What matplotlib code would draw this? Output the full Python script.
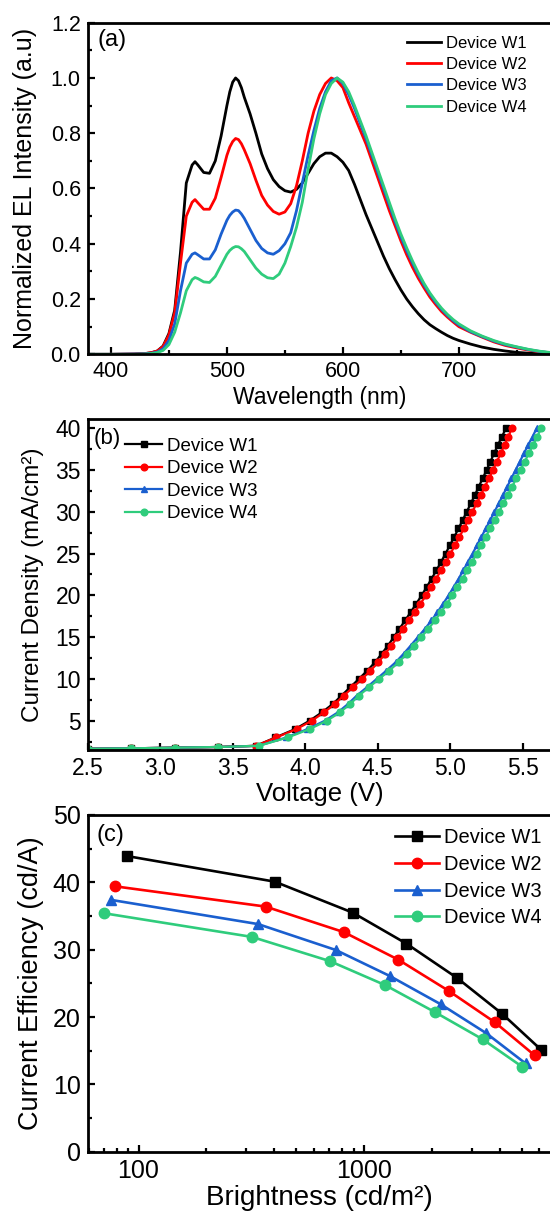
import matplotlib
matplotlib.use("Agg")
import matplotlib.pyplot as plt
from matplotlib.ticker import MultipleLocator, FormatStrFormatter, FixedLocator, NullFormatter, LogLocator

plt.rcParams["font.family"] = ["Liberation Sans", "DejaVu Sans"]

DEVICES = ["Device W1", "Device W2", "Device W3", "Device W4"]
COLORS = ["#000000", "#ff0000", "#1a5fcf", "#2fcc7c"]
MARKERS = ["s", "o", "^", "o"]

# (a) normalized EL spectra
wavelength = [380, 400, 420, 430,
              435, 440, 445, 450, 455, 460, 465, 470, 472.5, 475, 480, 485, 490, 495, 500,
              502.5, 505, 507.5, 510, 512.5, 515, 520, 525, 530, 535, 540, 545, 550, 555, 560,
              565, 570, 575, 580, 585, 590, 595, 600, 605, 610, 615, 620, 625, 630, 635, 640,
              645, 650, 655, 660, 665, 670, 675, 680, 685, 690, 695, 700,
              710, 720, 730, 740, 750, 760, 770, 780]
el_w1 = [0.0, 0.0, 0.001, 0.003,
         0.006, 0.012, 0.03, 0.075, 0.16, 0.37, 0.62, 0.685, 0.697, 0.685, 0.658, 0.655, 0.70, 0.79, 0.90,
         0.95, 0.985, 1.0, 0.99, 0.965, 0.93, 0.87, 0.80, 0.725, 0.672, 0.632, 0.607, 0.592, 0.587, 0.597,
         0.62, 0.655, 0.69, 0.715, 0.728, 0.728, 0.715, 0.695, 0.665, 0.615, 0.56, 0.505, 0.455, 0.405, 0.355, 0.31,
         0.27, 0.233, 0.20, 0.172, 0.147, 0.125, 0.107, 0.093, 0.08, 0.068, 0.058, 0.05,
         0.037, 0.026, 0.018, 0.012, 0.007, 0.004, 0.002, 0.001]
el_w2 = [0.0, 0.0, 0.001, 0.003,
         0.006, 0.012, 0.028, 0.07, 0.15, 0.33, 0.50, 0.55, 0.56, 0.548, 0.525, 0.525, 0.565, 0.64, 0.72,
         0.75, 0.77, 0.781, 0.777, 0.762, 0.74, 0.69, 0.63, 0.575, 0.54, 0.517, 0.507, 0.515, 0.545, 0.61,
         0.70, 0.80, 0.88, 0.94, 0.98, 1.0, 0.99, 0.965, 0.91, 0.86, 0.81, 0.76, 0.70, 0.64, 0.58, 0.52,
         0.465, 0.41, 0.36, 0.315, 0.275, 0.24, 0.207, 0.18, 0.155, 0.135, 0.117, 0.10,
         0.08, 0.062, 0.045, 0.032, 0.023, 0.015, 0.009, 0.005]
el_w3 = [0.0, 0.0, 0.001, 0.002,
         0.004, 0.008, 0.02, 0.05, 0.11, 0.23, 0.33, 0.362, 0.367, 0.36, 0.345, 0.345, 0.378, 0.435, 0.485,
         0.503, 0.515, 0.522, 0.52, 0.508, 0.492, 0.452, 0.412, 0.383, 0.367, 0.362, 0.375, 0.40, 0.44, 0.52,
         0.62, 0.72, 0.81, 0.89, 0.95, 0.99, 1.0, 0.98, 0.94, 0.89, 0.835, 0.78, 0.72, 0.66, 0.60, 0.54,
         0.48, 0.425, 0.375, 0.33, 0.288, 0.25, 0.217, 0.188, 0.163, 0.141, 0.122, 0.106,
         0.082, 0.064, 0.048, 0.035, 0.026, 0.017, 0.01, 0.005]
el_w4 = [0.0, 0.0, 0.0, 0.001,
         0.003, 0.006, 0.014, 0.035, 0.08, 0.15, 0.23, 0.27, 0.278, 0.274, 0.262, 0.26, 0.282, 0.322, 0.362,
         0.376, 0.385, 0.39, 0.389, 0.382, 0.372, 0.342, 0.312, 0.29, 0.277, 0.274, 0.29, 0.33, 0.39, 0.46,
         0.55, 0.67, 0.78, 0.87, 0.94, 0.98, 1.0, 0.985, 0.95, 0.90, 0.845, 0.79, 0.73, 0.67, 0.61, 0.55,
         0.49, 0.435, 0.385, 0.338, 0.295, 0.256, 0.222, 0.193, 0.167, 0.145, 0.126, 0.11,
         0.085, 0.066, 0.05, 0.037, 0.027, 0.018, 0.011, 0.006]

# (b) J-V: a few low-bias points, then one point per mA/cm2
j_low = [1.65, 1.70, 1.78, 1.86]
v_low = [2.5, 2.8, 3.1, 3.4]
j_steps = [2, 3, 4, 5, 6, 7, 8, 9, 10, 11, 12, 13, 14, 15, 16, 17, 18, 19, 20, 21,
           22, 23, 24, 25, 26, 27, 28, 29, 30, 31, 32, 33, 34, 35, 36, 37, 38, 39, 40]
v_w1 = [3.66, 3.795, 3.93, 4.03, 4.115, 4.19, 4.25, 4.31, 4.37, 4.428, 4.482, 4.527, 4.571,
        4.611, 4.65, 4.689, 4.728, 4.766, 4.803, 4.838, 4.872, 4.905, 4.937, 4.968, 4.998,
        5.028, 5.057, 5.086, 5.114, 5.142, 5.17, 5.197, 5.224, 5.251, 5.277, 5.303, 5.329,
        5.357, 5.385]
v_w2 = [3.66, 3.80, 3.94, 4.045, 4.13, 4.205, 4.265, 4.33, 4.392, 4.45, 4.505, 4.55, 4.595,
        4.635, 4.675, 4.715, 4.755, 4.795, 4.833, 4.868, 4.903, 4.937, 4.97, 5.002, 5.033,
        5.064, 5.094, 5.124, 5.153, 5.182, 5.211, 5.239, 5.267, 5.295, 5.322, 5.349, 5.375,
        5.401, 5.426]
v_w3 = [3.68, 3.87, 4.015, 4.135, 4.225, 4.295, 4.355, 4.425, 4.493, 4.56, 4.624, 4.678,
        4.728, 4.777, 4.826, 4.871, 4.912, 4.951, 4.989, 5.024, 5.058, 5.091, 5.122, 5.154,
        5.185, 5.215, 5.246, 5.276, 5.305, 5.335, 5.364, 5.393, 5.422, 5.451, 5.48, 5.509,
        5.538, 5.568, 5.597]
v_w4 = [3.68, 3.88, 4.03, 4.15, 4.24, 4.31, 4.37, 4.44, 4.51, 4.58, 4.645, 4.70, 4.75,
        4.80, 4.85, 4.895, 4.937, 4.977, 5.015, 5.05, 5.085, 5.118, 5.15, 5.182, 5.214,
        5.245, 5.276, 5.307, 5.337, 5.367, 5.397, 5.427, 5.456, 5.485, 5.514, 5.543, 5.571,
        5.60, 5.628]

# (c) current efficiency vs brightness
lum_w1 = [89, 402, 891, 1542, 2588, 4093, 6120]
ce_w1 = [43.9, 40.1, 35.5, 30.9, 25.8, 20.5, 15.1]
lum_w2 = [79, 366, 815, 1422, 2371, 3811, 5717]
ce_w2 = [39.4, 36.4, 32.6, 28.5, 23.9, 19.2, 14.3]
lum_w3 = [75.3, 339, 750, 1300, 2188, 3484, 5210]
ce_w3 = [37.4, 33.8, 29.95, 26.1, 21.9, 17.6, 13.1]
lum_w4 = [70.6, 318, 706, 1239, 2070, 3357, 5036]
ce_w4 = [35.4, 31.9, 28.3, 24.75, 20.7, 16.7, 12.6]


def style_axes(ax, tick_size):
    for sp in ax.spines.values():
        sp.set_linewidth(2.0)
    ax.tick_params(which="both", direction="in", width=1.6, labelsize=tick_size,
                   top=False, right=False)
    ax.tick_params(which="major", length=5, pad=5)
    ax.tick_params(which="minor", length=3)


fig = plt.figure(figsize=(5.5, 12.15), dpi=100)
W = 550.0
H = 1215.0


def px_axes(left, top, right, bottom):
    return fig.add_axes([left / W, 1 - bottom / H, (right - left) / W, (bottom - top) / H])


# ---- (a) ----
ax1 = px_axes(87.7, 22.7, 551.7, 354.3)
for y, lab, c in zip([el_w1, el_w2, el_w3, el_w4], DEVICES, COLORS):
    ax1.plot(wavelength, y, color=c, lw=2.0, label=lab, solid_joinstyle="round")
ax1.set_xlim(380, 780)
ax1.set_ylim(0, 1.2)
ax1.xaxis.set_major_locator(MultipleLocator(100))
ax1.xaxis.set_minor_locator(MultipleLocator(50))
ax1.yaxis.set_major_locator(MultipleLocator(0.2))
ax1.yaxis.set_minor_locator(MultipleLocator(0.1))
ax1.yaxis.set_major_formatter(FormatStrFormatter("%.1f"))
style_axes(ax1, 15.5)
ax1.set_xlabel("Wavelength (nm)", fontsize=16.5)
ax1.set_ylabel("Normalized EL Intensity (a.u)", fontsize=18)
ax1.xaxis.set_label_coords(0.5, -0.095)
ax1.yaxis.set_label_coords(-0.11, 0.5)
ax1.text(0.022, 0.948, "(a)", transform=ax1.transAxes, fontsize=17, va="center", ha="left")
ax1.legend(loc="upper left", bbox_to_anchor=(0.688, 0.961), frameon=False, fontsize=12,
           handlelength=2.05, handletextpad=0.3, labelspacing=0.38,
           borderpad=0, borderaxespad=0)

# ---- (b) ----
ax2 = px_axes(87.7, 419, 551.7, 750)
for v, lab, c, m in zip([v_w1, v_w2, v_w3, v_w4], DEVICES, COLORS, MARKERS):
    ax2.plot(v_low + v, j_low + j_steps, color=c, lw=1.6, marker=m, ms=4.8, label=lab)
ax2.set_xlim(2.5, 5.7)
ax2.set_ylim(1.5, 41.1)
ax2.xaxis.set_major_locator(MultipleLocator(0.5))
ax2.xaxis.set_major_formatter(FormatStrFormatter("%.1f"))
ax2.yaxis.set_major_locator(FixedLocator([5, 10, 15, 20, 25, 30, 35, 40]))
ax2.yaxis.set_minor_locator(FixedLocator([2.5, 7.5, 12.5, 17.5, 22.5, 27.5, 32.5, 37.5]))
style_axes(ax2, 16.5)
ax2.set_xlabel("Voltage (V)", fontsize=18.5)
ax2.set_ylabel("Current Density (mA/cm²)", fontsize=17.5)
ax2.xaxis.set_label_coords(0.5, -0.098)
ax2.yaxis.set_label_coords(-0.094, 0.5)
ax2.text(0.0136, 0.94, "(b)", transform=ax2.transAxes, fontsize=16, va="center", ha="left")
ax2.legend(loc="upper left", bbox_to_anchor=(0.080, 0.943), frameon=False, fontsize=13.5,
           handlelength=2.0, handletextpad=0.27, labelspacing=0.28,
           borderpad=0, borderaxespad=0)

# ---- (c) ----
ax3 = px_axes(87.7, 815, 551.7, 1151.7)
for lum, ce, lab, c, m in zip([lum_w1, lum_w2, lum_w3, lum_w4], [ce_w1, ce_w2, ce_w3, ce_w4],
                              DEVICES, COLORS, MARKERS):
    ax3.plot(lum, ce, color=c, lw=1.9, marker=m, ms=7.5, label=lab)
ax3.set_xscale("log")
ax3.set_xlim(59.5, 6800)
ax3.set_ylim(0, 50)
ax3.xaxis.set_major_locator(FixedLocator([100, 1000]))
ax3.xaxis.set_major_formatter(FormatStrFormatter("%d"))
ax3.xaxis.set_minor_locator(LogLocator(base=10, subs=(2, 3, 4, 5, 6, 7, 8, 9)))
ax3.xaxis.set_minor_formatter(NullFormatter())
ax3.yaxis.set_major_locator(MultipleLocator(10))
ax3.yaxis.set_minor_locator(MultipleLocator(5))
style_axes(ax3, 18)
ax3.set_xlabel("Brightness (cd/m²)", fontsize=20)
ax3.set_ylabel("Current Efficiency (cd/A)", fontsize=19.5)
ax3.xaxis.set_label_coords(0.5, -0.1)
ax3.yaxis.set_label_coords(-0.094, 0.5)
ax3.text(0.019, 0.94, "(c)", transform=ax3.transAxes, fontsize=17, va="center", ha="left")
ax3.legend(loc="upper left", bbox_to_anchor=(0.662, 0.96), frameon=False, fontsize=14.5,
           handlelength=2.2, handletextpad=0.26, labelspacing=0.38,
           borderpad=0, borderaxespad=0)

fig.savefig("out.png", dpi=100)
